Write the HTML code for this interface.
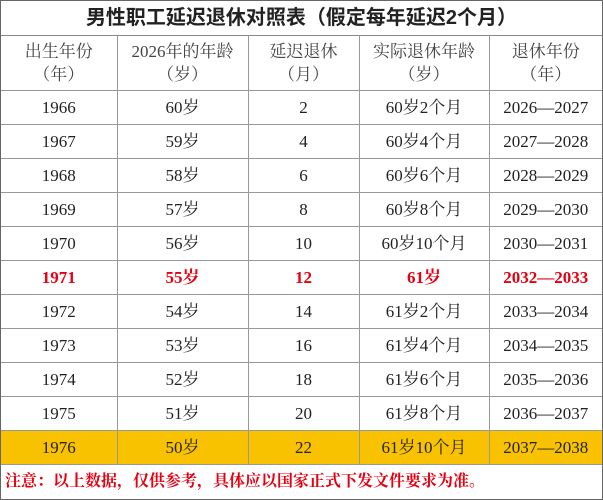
<!DOCTYPE html>
<html><head><meta charset="utf-8"><style>
body{margin:0;width:603px;height:500px;background:#fff;overflow:hidden;font-family:"Liberation Serif","Noto Serif CJK SC",serif;}
.wrap{position:absolute;left:0;top:0;width:601px;height:498px;border:1px solid #666;}
.title{position:absolute;left:0;top:0;width:601px;height:34px;line-height:34px;text-align:center;font-family:"Liberation Sans","Noto Sans CJK SC",sans-serif;font-size:20px;font-weight:bold;color:#222;border-bottom:1px solid #888;}
table{position:absolute;left:0;top:34px;border-collapse:collapse;width:601px;table-layout:fixed;}
td{border:1px solid #999;text-align:center;font-size:17px;color:#222;height:33px;padding:0;line-height:20px;vertical-align:middle;}
td span{display:inline-block;line-height:20px;vertical-align:middle;}
tr.h td{height:55px;line-height:23px;color:#444;font-size:17px;}
tr:first-child td{border-top:none}
td:first-child{border-left:none}td:last-child{border-right:none}
tr.r td{color:#e60012;font-weight:bold;}
tr.y td{background:#f8c200;}
.note{position:absolute;left:4px;top:469px;font-size:16px;line-height:20px;color:#e60012;font-weight:bold;font-family:"Noto Serif CJK SC",serif;}
</style></head><body><div class="wrap">
<div class="title">男性职工延迟退休对照表（假定每年延迟2个月）</div>
<table>
<colgroup><col style="width:116px"><col style="width:131px"><col style="width:111px"><col style="width:130px"><col style="width:113px"></colgroup>
<tr class="h"><td>出生年份<br>（年）</td><td>2026年的年龄<br>（岁）</td><td>延迟退休<br>（月）</td><td>实际退休年龄<br>（岁）</td><td>退休年份<br>（年）</td></tr>
<tr><td>1966</td><td>60岁</td><td>2</td><td>60岁2个月</td><td>2026—2027</td></tr>
<tr><td>1967</td><td>59岁</td><td>4</td><td>60岁4个月</td><td>2027—2028</td></tr>
<tr><td>1968</td><td>58岁</td><td>6</td><td>60岁6个月</td><td>2028—2029</td></tr>
<tr><td>1969</td><td>57岁</td><td>8</td><td>60岁8个月</td><td>2029—2030</td></tr>
<tr><td>1970</td><td>56岁</td><td>10</td><td>60岁10个月</td><td>2030—2031</td></tr>
<tr class="r"><td>1971</td><td>55岁</td><td>12</td><td>61岁</td><td>2032—2033</td></tr>
<tr><td>1972</td><td>54岁</td><td>14</td><td>61岁2个月</td><td>2033—2034</td></tr>
<tr><td>1973</td><td>53岁</td><td>16</td><td>61岁4个月</td><td>2034—2035</td></tr>
<tr><td>1974</td><td>52岁</td><td>18</td><td>61岁6个月</td><td>2035—2036</td></tr>
<tr><td>1975</td><td>51岁</td><td>20</td><td>61岁8个月</td><td>2036—2037</td></tr>
<tr class="y"><td>1976</td><td>50岁</td><td>22</td><td>61岁10个月</td><td>2037—2038</td></tr>
</table>
<div class="note">注意：以上数据，仅供参考，具体应以国家正式下发文件要求为准。</div>
</div></body></html>
